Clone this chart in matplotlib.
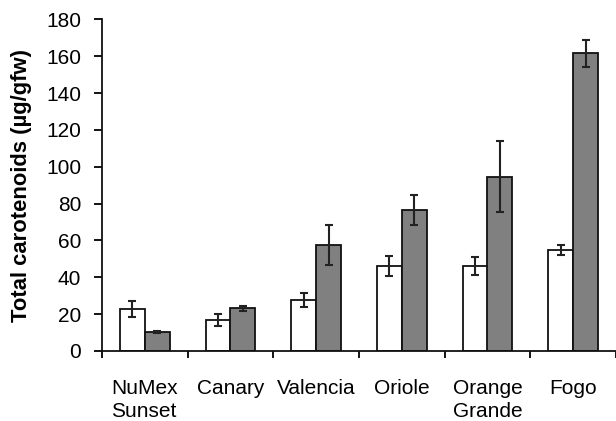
import matplotlib
matplotlib.use('Agg')
import matplotlib.pyplot as plt
import numpy as np

plt.rcParams['font.family'] = ['Liberation Sans', 'DejaVu Sans']

cultivars = ['NuMex\nSunset', 'Canary', 'Valencia', 'Oriole', 'Orange\nGrande', 'Fogo']
white_vals = [22.6, 16.8, 27.7, 46.1, 46.1, 54.8]
white_err = [4.4, 3.4, 3.7, 5.6, 5.0, 2.9]
grey_vals = [10.5, 23.2, 57.4, 76.5, 94.6, 161.6]
grey_err = [0.5, 1.4, 11.0, 8.2, 19.4, 7.4]

fig = plt.figure(figsize=(6.16, 4.21), dpi=100)
ax = fig.add_axes([102 / 616, 1 - 351 / 421, 1 - 102 / 616, (351 - 19.3) / 421])

x = np.arange(len(cultivars))
w = 0.29
err_kw = dict(ecolor='#222222', elinewidth=1.5, capsize=3, capthick=1.5)
ax.bar(x - w / 2, white_vals, w, yerr=white_err, color='white',
       edgecolor='#111111', linewidth=1.3, error_kw=err_kw)
ax.bar(x + w / 2, grey_vals, w, yerr=grey_err, color='#808080',
       edgecolor='#111111', linewidth=1.3, error_kw=err_kw)

ax.set_xlim(-0.5, len(cultivars) - 0.5)
ax.set_ylim(0, 180)
ax.set_yticks(np.arange(0, 181, 20))

ax.set_xticks(x)
ax.set_xticklabels(cultivars, fontsize=15, multialignment='left', linespacing=1.25)
ax.tick_params(axis='x', length=0, pad=20)
ax.set_xticks(np.arange(len(cultivars) + 1) - 0.5, minor=True)
ax.tick_params(axis='x', which='minor', length=5, width=1.3, direction='out')
ax.tick_params(axis='y', length=6, width=1.3, direction='out', labelsize=15, pad=9)

for s in ['top', 'right']:
    ax.spines[s].set_visible(False)
for s in ['left', 'bottom']:
    ax.spines[s].set_linewidth(1.3)
    ax.spines[s].set_color('#111111')

ax.set_ylabel('Total carotenoids (µg/gfw)', fontsize=15.8, fontweight='bold', labelpad=10)

fig.savefig('out.png', dpi=100)
